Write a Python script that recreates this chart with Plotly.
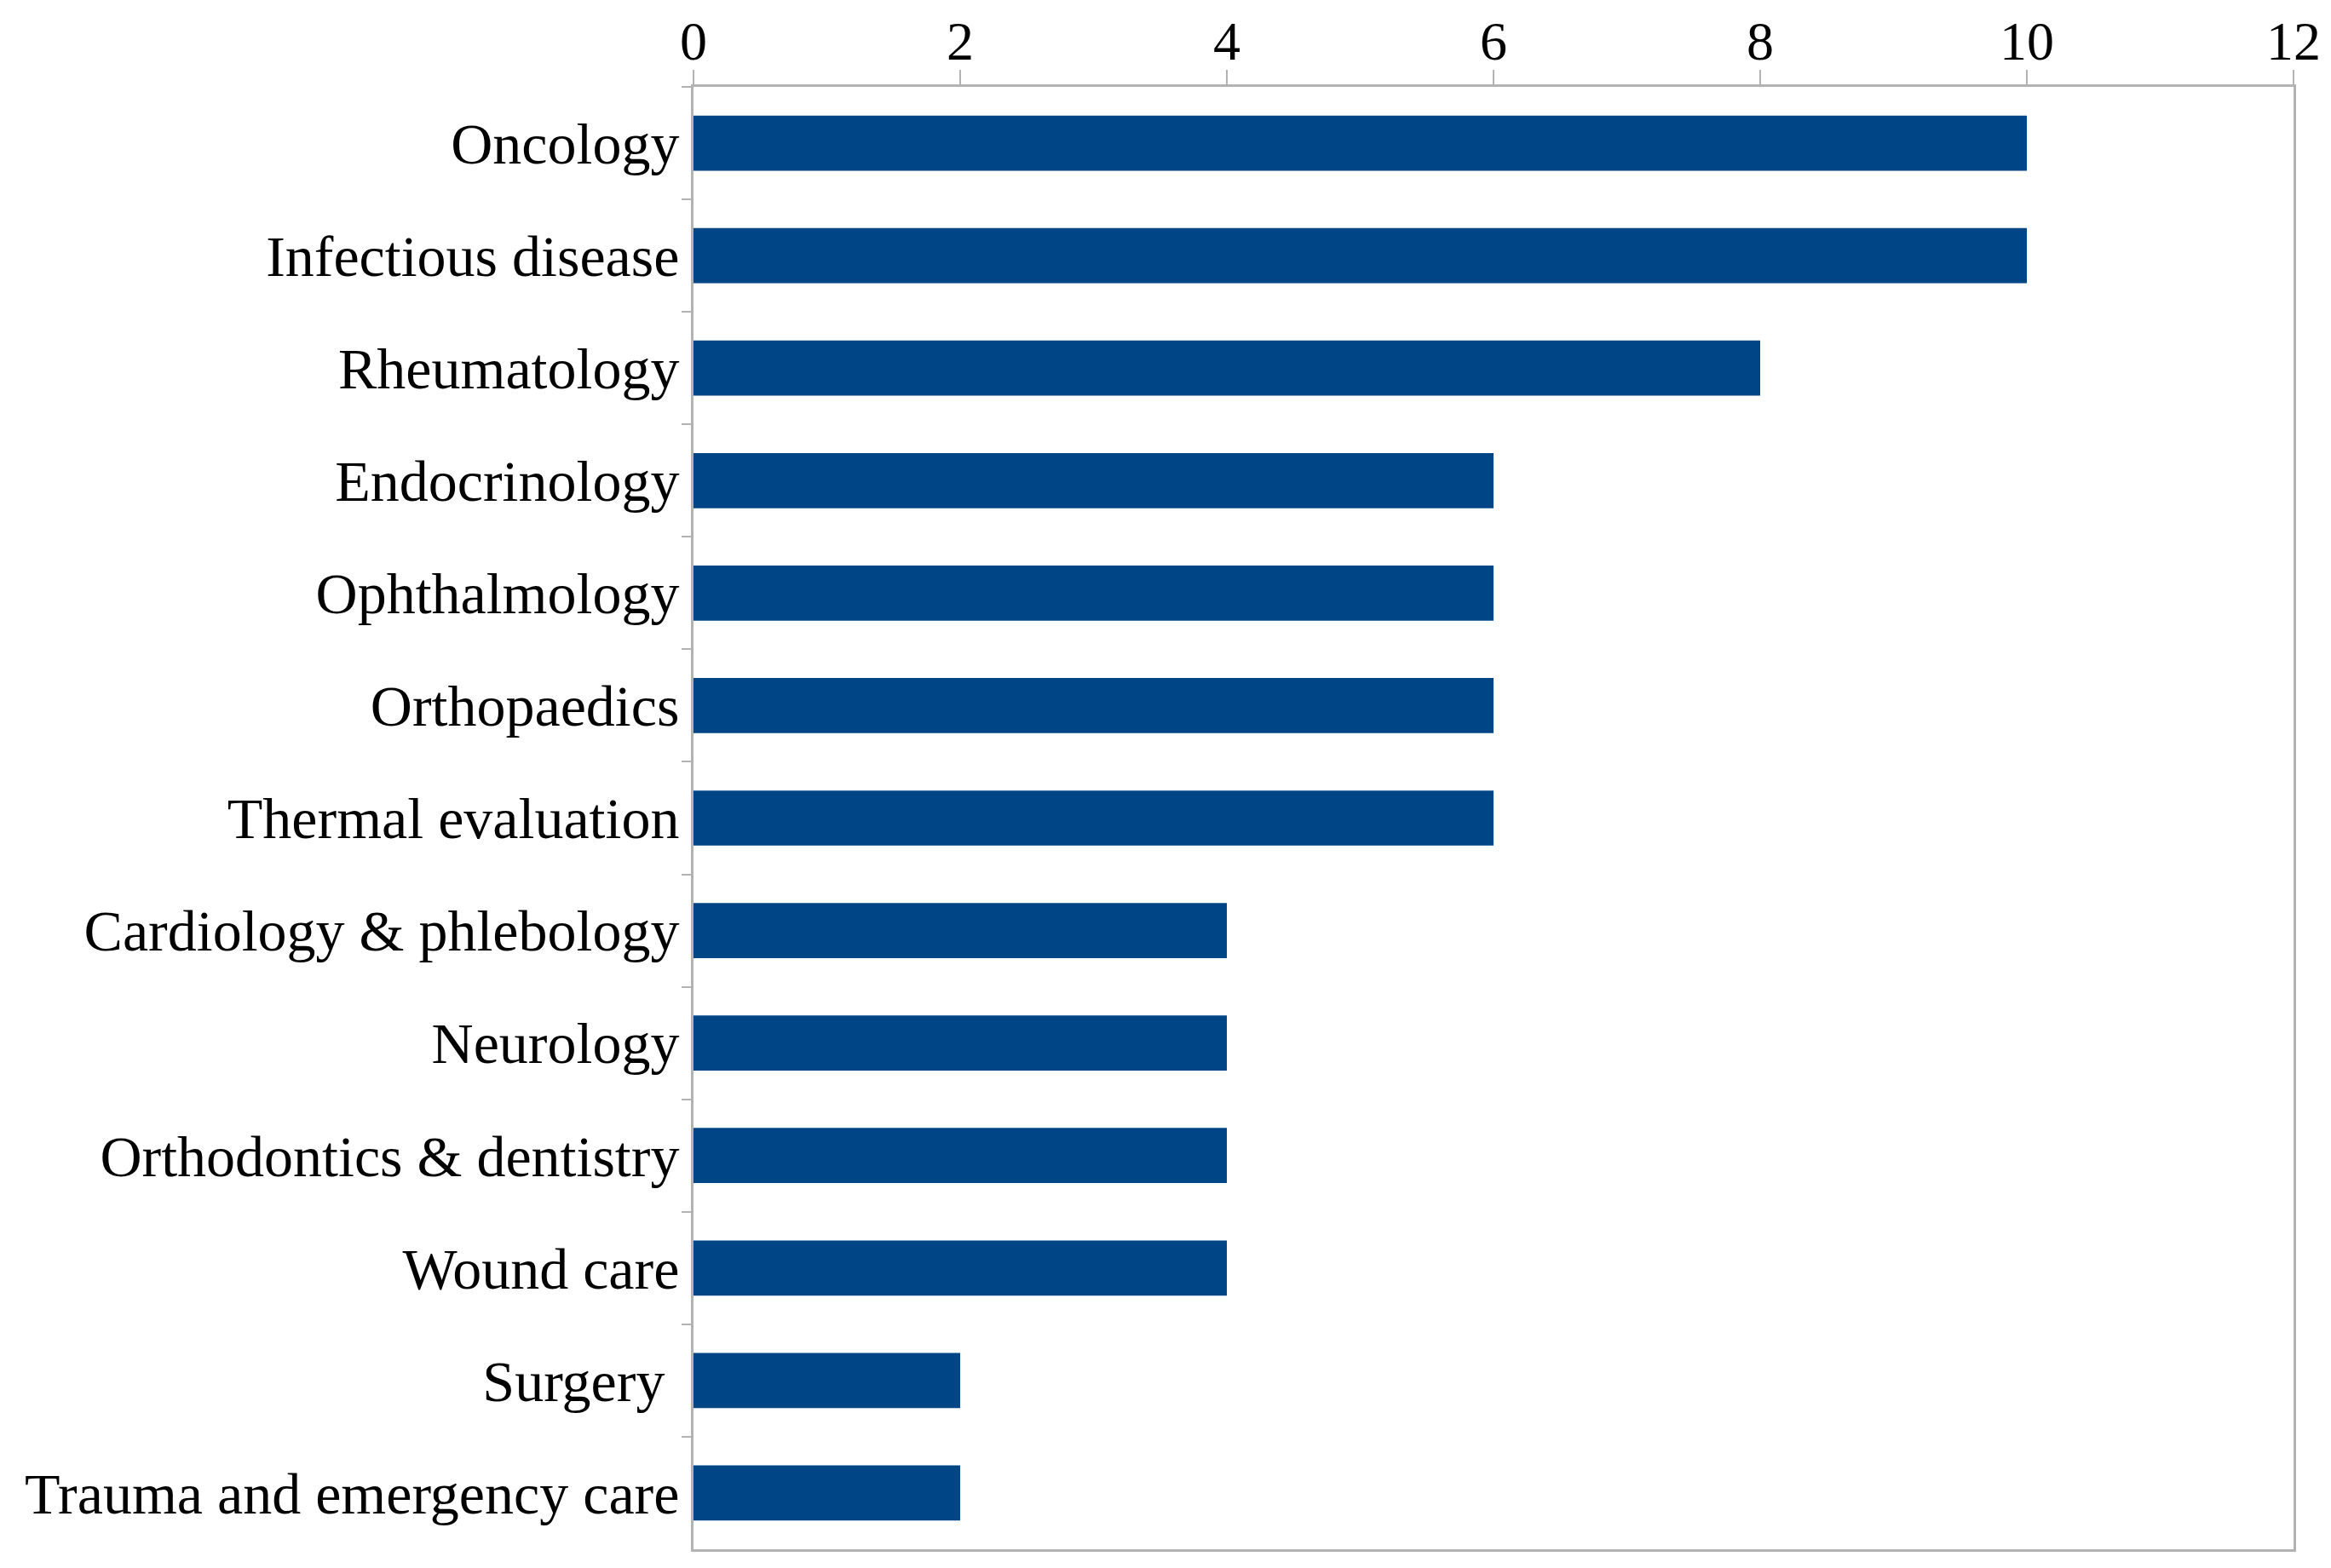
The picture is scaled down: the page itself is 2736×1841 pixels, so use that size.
import plotly.graph_objects as go

categories = [
    "Oncology",
    "Infectious disease",
    "Rheumatology",
    "Endocrinology",
    "Ophthalmology",
    "Orthopaedics",
    "Thermal evaluation",
    "Cardiology & phlebology",
    "Neurology",
    "Orthodontics & dentistry",
    "Wound care",
    "Surgery\u00a0",
    "Trauma and emergency care",
]
values = [10, 10, 8, 6, 6, 6, 6, 4, 4, 4, 4, 2, 2]
x_ticks = [0, 2, 4, 6, 8, 10, 12]

BAR_COLOR = "#004586"
AXIS_COLOR = "#b3b3b3"
FONT = "Liberation Serif"

fig = go.Figure(
    go.Bar(
        x=values,
        y=categories,
        orientation="h",
        marker=dict(color=BAR_COLOR, line=dict(width=0)),
        width=0.49,
    )
)

fig.update_layout(
    width=2736,
    height=1841,
    margin=dict(l=806, r=52, t=94, b=30),
    paper_bgcolor="white",
    plot_bgcolor="white",
    showlegend=False,
    font=dict(family=FONT, color="black", size=68),
)

fig.update_xaxes(
    side="top",
    range=[0, 12],
    tickvals=x_ticks,
    ticktext=[str(v) for v in x_ticks],
    ticks="outside",
    ticklen=17,
    tickwidth=2,
    tickcolor=AXIS_COLOR,
    showline=True,
    linecolor=AXIS_COLOR,
    linewidth=3,
    mirror=True,
    showgrid=False,
    zeroline=False,
    automargin=False,
    ticklabelstandoff=-14,
    tickfont=dict(family=FONT, size=64, color="black"),
)

fig.update_yaxes(
    categoryorder="array",
    categoryarray=categories,
    autorange="reversed",
    tickson="boundaries",
    ticks="outside",
    ticklen=11,
    tickwidth=2,
    tickcolor=AXIS_COLOR,
    showline=True,
    linecolor=AXIS_COLOR,
    linewidth=3,
    mirror=True,
    showgrid=False,
    zeroline=False,
    automargin=False,
    tickfont=dict(family=FONT, size=68, color="black"),
)

fig.write_html("out.html")
